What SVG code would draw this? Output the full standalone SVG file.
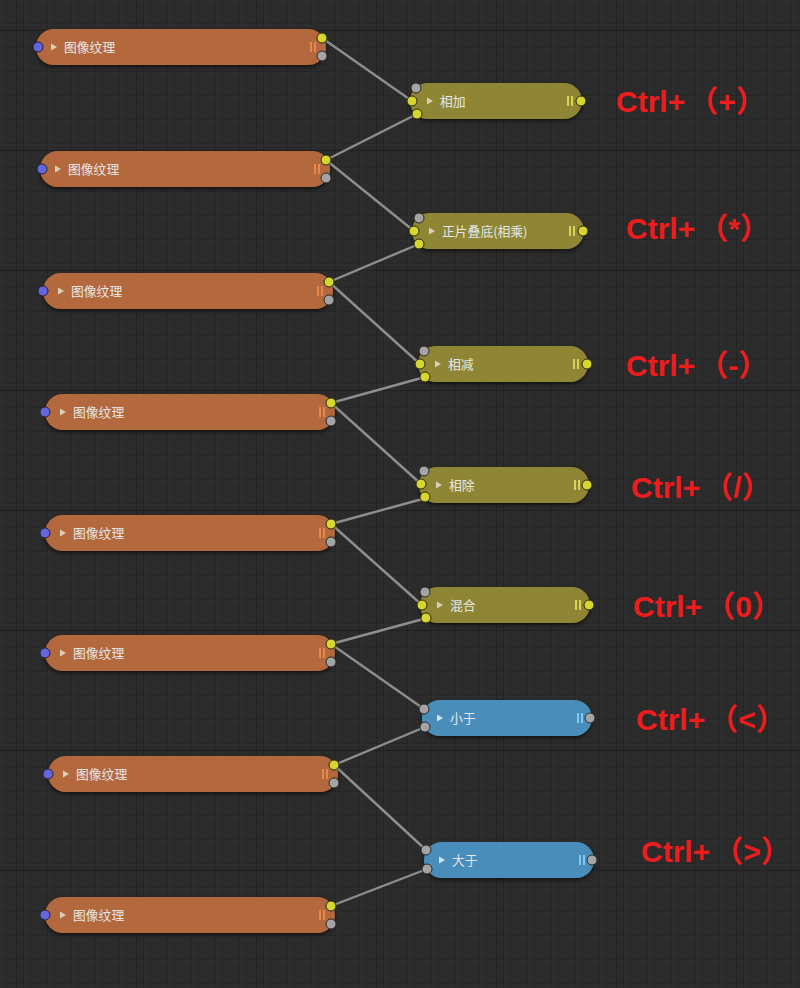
<svg xmlns="http://www.w3.org/2000/svg" width="800" height="988" viewBox="0 0 800 988">
<defs>
<pattern id="minor" width="24" height="24" patternUnits="userSpaceOnUse">
<rect width="24" height="24" fill="#2b2b2b"/>
<path d="M24 0V24M0 24H24" stroke="#202020" stroke-width="1.2" fill="none"/>
<path d="M1 0V24M0 1H24" stroke="#323232" stroke-width="0.6" fill="none"/>
</pattern>
<pattern id="major" width="120" height="120" patternUnits="userSpaceOnUse" x="16" y="30">
<path d="M0 0V120M0 0H120" stroke="#1c1c1c" stroke-width="1.3" fill="none"/>
</pattern>
<filter id="sh" x="-10%" y="-30%" width="120%" height="180%">
<feDropShadow dx="0" dy="2" stdDeviation="2" flood-color="#000" flood-opacity="0.6"/>
</filter>
</defs>
<style>
.tex{fill:#b4683c;filter:url(#sh)}
.add{fill:#8f8636;filter:url(#sh)}
.cmp{fill:#4a8dba;filter:url(#sh)}
.lbl{font-family:"Noto Sans CJK SC","Noto Sans",sans-serif;font-size:12.8px;fill:#e6e6e6}
.tri{fill:#d8d0b8}
.tri2{fill:#d0e4f0}
.bo{stroke:#f09050;stroke-width:1.6}
.by{stroke:#e8e860;stroke-width:1.6}
.bb{stroke:#90d8ff;stroke-width:1.6}
.sy{fill:#d6d62e;stroke:#2a2a10;stroke-width:1}
.sg{fill:#a4a4a4;stroke:#2a2a2a;stroke-width:1}
.sb{fill:#6466dc;stroke:#202040;stroke-width:1}
.key{font-family:"Liberation Sans","Noto Sans CJK SC",sans-serif;font-size:30px;font-weight:bold;fill:#ee1c1c}
#links line{stroke:#8e8e8e;stroke-width:2.4;stroke-linecap:round}
</style>
<rect width="800" height="988" fill="url(#minor)"/>
<rect width="800" height="988" fill="url(#major)"/>

<g id="links">
<line x1="322" y1="38" x2="412" y2="101"/>
<line x1="326" y1="160" x2="417" y2="114"/>
<line x1="326" y1="160" x2="414" y2="231"/>
<line x1="329" y1="282" x2="419" y2="244"/>
<line x1="329" y1="282" x2="420" y2="364"/>
<line x1="331" y1="403" x2="425" y2="377"/>
<line x1="331" y1="403" x2="421" y2="484"/>
<line x1="331" y1="524" x2="426" y2="498"/>
<line x1="331" y1="524" x2="422" y2="605"/>
<line x1="331" y1="644" x2="427" y2="618"/>
<line x1="331" y1="644" x2="424" y2="709"/>
<line x1="334" y1="765" x2="425" y2="727"/>
<line x1="334" y1="765" x2="426" y2="850"/>
<line x1="331" y1="906" x2="427" y2="869"/>
</g>

<g id="tex1" transform="translate(36,29)">
<rect class="tex" width="290" height="36" rx="18"/>
<path class="tri" d="M15 14.5L21 18L15 21.5Z"/>
<text class="lbl" x="28" y="22.5">图像纹理</text>
<path class="bo" d="M275 13V23M279 13V23"/>
<circle class="sb" cx="2" cy="18" r="5"/>
<circle class="sy" cx="286" cy="9" r="5"/>
<circle class="sg" cx="286" cy="27" r="5"/>
</g>
<g id="tex2" transform="translate(40,151)">
<rect class="tex" width="290" height="36" rx="18"/>
<path class="tri" d="M15 14.5L21 18L15 21.5Z"/>
<text class="lbl" x="28" y="22.5">图像纹理</text>
<path class="bo" d="M275 13V23M279 13V23"/>
<circle class="sb" cx="2" cy="18" r="5"/>
<circle class="sy" cx="286" cy="9" r="5"/>
<circle class="sg" cx="286" cy="27" r="5"/>
</g>
<g id="tex3" transform="translate(43,273)">
<rect class="tex" width="290" height="36" rx="18"/>
<path class="tri" d="M15 14.5L21 18L15 21.5Z"/>
<text class="lbl" x="28" y="22.5">图像纹理</text>
<path class="bo" d="M275 13V23M279 13V23"/>
<circle class="sb" cx="0" cy="18" r="5"/>
<circle class="sy" cx="286" cy="9" r="5"/>
<circle class="sg" cx="286" cy="27" r="5"/>
</g>
<g id="tex4" transform="translate(45,394)">
<rect class="tex" width="290" height="36" rx="18"/>
<path class="tri" d="M15 14.5L21 18L15 21.5Z"/>
<text class="lbl" x="28" y="22.5">图像纹理</text>
<path class="bo" d="M275 13V23M279 13V23"/>
<circle class="sb" cx="0" cy="18" r="5"/>
<circle class="sy" cx="286" cy="9" r="5"/>
<circle class="sg" cx="286" cy="27" r="5"/>
</g>
<g id="tex5" transform="translate(45,515)">
<rect class="tex" width="290" height="36" rx="18"/>
<path class="tri" d="M15 14.5L21 18L15 21.5Z"/>
<text class="lbl" x="28" y="22.5">图像纹理</text>
<path class="bo" d="M275 13V23M279 13V23"/>
<circle class="sb" cx="0" cy="18" r="5"/>
<circle class="sy" cx="286" cy="9" r="5"/>
<circle class="sg" cx="286" cy="27" r="5"/>
</g>
<g id="tex6" transform="translate(45,635)">
<rect class="tex" width="290" height="36" rx="18"/>
<path class="tri" d="M15 14.5L21 18L15 21.5Z"/>
<text class="lbl" x="28" y="22.5">图像纹理</text>
<path class="bo" d="M275 13V23M279 13V23"/>
<circle class="sb" cx="0" cy="18" r="5"/>
<circle class="sy" cx="286" cy="9" r="5"/>
<circle class="sg" cx="286" cy="27" r="5"/>
</g>
<g id="tex7" transform="translate(48,756)">
<rect class="tex" width="290" height="36" rx="18"/>
<path class="tri" d="M15 14.5L21 18L15 21.5Z"/>
<text class="lbl" x="28" y="22.5">图像纹理</text>
<path class="bo" d="M275 13V23M279 13V23"/>
<circle class="sb" cx="0" cy="18" r="5"/>
<circle class="sy" cx="286" cy="9" r="5"/>
<circle class="sg" cx="286" cy="27" r="5"/>
</g>
<g id="tex8" transform="translate(45,897)">
<rect class="tex" width="290" height="36" rx="18"/>
<path class="tri" d="M15 14.5L21 18L15 21.5Z"/>
<text class="lbl" x="28" y="22.5">图像纹理</text>
<path class="bo" d="M275 13V23M279 13V23"/>
<circle class="sb" cx="0" cy="18" r="5"/>
<circle class="sy" cx="286" cy="9" r="5"/>
<circle class="sg" cx="286" cy="27" r="5"/>
</g>

<g id="add" transform="translate(410,83)">
<rect class="add" width="172" height="36" rx="18"/>
<path class="tri" d="M17 14.5L23 18L17 21.5Z"/>
<text class="lbl" x="30" y="22.5">相加</text>
<path class="by" d="M158 13V23M162 13V23"/>
<circle class="sg" cx="6" cy="5" r="5"/>
<circle class="sy" cx="2" cy="18" r="5"/>
<circle class="sy" cx="7" cy="31" r="5"/>
<circle class="sy" cx="171" cy="18" r="5"/>
</g>
<g id="multiply" transform="translate(412,213)">
<rect class="add" width="172" height="36" rx="18"/>
<path class="tri" d="M17 14.5L23 18L17 21.5Z"/>
<text class="lbl" x="30" y="22.5">正片叠底(相乘)</text>
<path class="by" d="M158 13V23M162 13V23"/>
<circle class="sg" cx="7" cy="5" r="5"/>
<circle class="sy" cx="2" cy="18" r="5"/>
<circle class="sy" cx="7" cy="31" r="5"/>
<circle class="sy" cx="171" cy="18" r="5"/>
</g>
<g id="subtract" transform="translate(418,346)">
<rect class="add" width="170" height="36" rx="18"/>
<path class="tri" d="M17 14.5L23 18L17 21.5Z"/>
<text class="lbl" x="30" y="22.5">相减</text>
<path class="by" d="M156 13V23M160 13V23"/>
<circle class="sg" cx="6" cy="5" r="5"/>
<circle class="sy" cx="2" cy="18" r="5"/>
<circle class="sy" cx="7" cy="31" r="5"/>
<circle class="sy" cx="169" cy="18" r="5"/>
</g>
<g id="divide" transform="translate(419,467)">
<rect class="add" width="170" height="36" rx="18"/>
<path class="tri" d="M17 14.5L23 18L17 21.5Z"/>
<text class="lbl" x="30" y="22.5">相除</text>
<path class="by" d="M156 13V23M160 13V23"/>
<circle class="sg" cx="5" cy="4" r="5"/>
<circle class="sy" cx="2" cy="17" r="5"/>
<circle class="sy" cx="6" cy="30" r="5"/>
<circle class="sy" cx="168" cy="18" r="5"/>
</g>
<g id="mix" transform="translate(420,587)">
<rect class="add" width="170" height="36" rx="18"/>
<path class="tri" d="M17 14.5L23 18L17 21.5Z"/>
<text class="lbl" x="30" y="22.5">混合</text>
<path class="by" d="M156 13V23M160 13V23"/>
<circle class="sg" cx="5" cy="5" r="5"/>
<circle class="sy" cx="2" cy="18" r="5"/>
<circle class="sy" cx="6" cy="31" r="5"/>
<circle class="sy" cx="169" cy="18" r="5"/>
</g>
<g id="less" transform="translate(422,700)">
<rect class="cmp" width="170" height="36" rx="18"/>
<path class="tri2" d="M15 14.5L21 18L15 21.5Z"/>
<text class="lbl" x="28" y="22.5">小于</text>
<path class="bb" d="M156 13V23M160 13V23"/>
<circle class="sg" cx="2" cy="9" r="5"/>
<circle class="sg" cx="3" cy="27" r="5"/>
<circle class="sg" cx="168" cy="18" r="5"/>
</g>
<g id="greater" transform="translate(424,842)">
<rect class="cmp" width="170" height="36" rx="18"/>
<path class="tri2" d="M15 14.5L21 18L15 21.5Z"/>
<text class="lbl" x="28" y="22.5">大于</text>
<path class="bb" d="M156 13V23M160 13V23"/>
<circle class="sg" cx="2" cy="8" r="5"/>
<circle class="sg" cx="3" cy="27" r="5"/>
<circle class="sg" cx="168" cy="18" r="5"/>
</g>

<g id="shortcuts">
<text class="key" x="616" y="112">Ctrl+<tspan dx="3">（+）</tspan></text>
<text class="key" x="626" y="239">Ctrl+<tspan dx="3">（*）</tspan></text>
<text class="key" x="626" y="376">Ctrl+<tspan dx="3">（-）</tspan></text>
<text class="key" x="631" y="498">Ctrl+<tspan dx="3">（/）</tspan></text>
<text class="key" x="633" y="617">Ctrl+<tspan dx="3">（0）</tspan></text>
<text class="key" x="636" y="730">Ctrl+<tspan dx="3">（&lt;）</tspan></text>
<text class="key" x="641" y="862">Ctrl+<tspan dx="3">（&gt;）</tspan></text>
</g>
</svg>
